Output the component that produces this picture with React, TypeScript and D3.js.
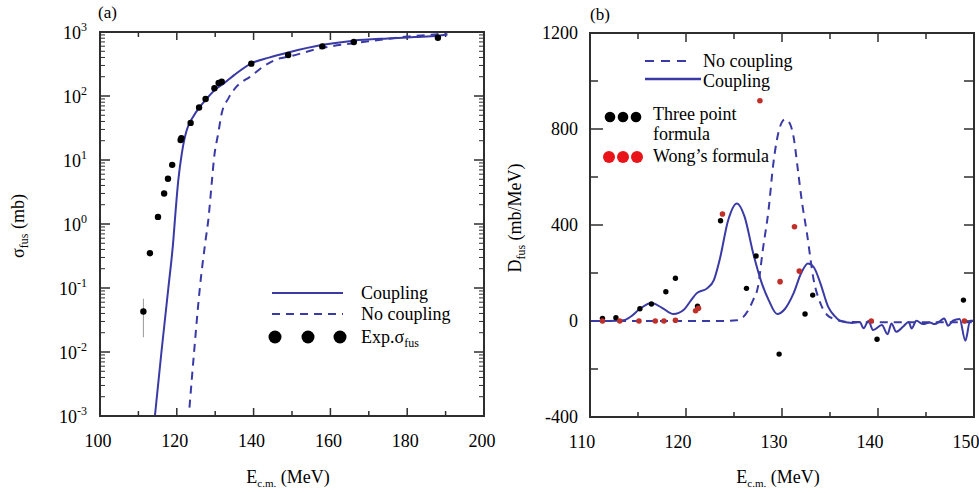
import React from 'react';
import * as d3 from 'd3';

const W = 979;
const H = 493;
const FONT = "'Liberation Serif', 'Times New Roman', Times, serif";
const BLUE = '#3a3aa6';
const AXIS = '#2e2e2e';

// ---------- Panel (a) ----------
const aXTicks = [100, 120, 140, 160, 180, 200];
const aXMinor = [110, 130, 150, 170, 190];
const aYExp = [-3, -2, -1, 0, 1, 2, 3];

const expE = [111.3, 113.0, 115.1, 116.7, 117.7, 118.8, 121.0, 121.2, 123.6, 125.8, 127.5, 129.8, 130.9, 131.7, 139.4, 149.0, 157.9, 166.1, 188.0];
const expSigma = [0.043, 0.35, 1.29, 3.0, 5.1, 8.4, 20.5, 22, 38, 66, 90, 132, 160, 167, 320, 437, 597, 698, 813];
const errE = [111.3];
const errLo = [0.017];
const errHi = [0.068];

const cplAE = [114.3, 116.0, 117.8, 119.1, 119.5, 120.4, 121.3, 122.0, 122.6, 124.3, 126.0, 127.8, 130.4, 132.1, 135.0, 139.4, 144.0, 149.0, 158.0, 166.0, 175.0, 182.0, 188.0, 190.5];
const cplASigma = [0.001, 0.01, 0.1, 0.56, 1.15, 4.9, 12.6, 21.4, 29.5, 47.9, 67.6, 91.2, 132, 155, 214, 324, 398, 479, 631, 733, 794, 832, 871, 912];

const noCplAE = [123.3, 124.5, 126.0, 127.5, 128.2, 129.1, 129.7, 130.8, 131.7, 133.4, 135.6, 139.1, 142.5, 146.9, 148.6, 157.3, 169.4, 180.0, 189.4, 190.5];
const noCplASigma = [0.00135, 0.01, 0.1, 0.56, 1.15, 4.4, 10.7, 26.3, 53.7, 91, 141, 200, 288, 389, 407, 556, 708, 851, 955, 1000];

// ---------- Panel (b) ----------
const bXTicks = [110, 120, 130, 140, 150];
const bXMinor = [115, 125, 135, 145];
const bYTicks = [-400, 0, 400, 800, 1200];
const bYMinor = [-200, 200, 600, 1000];

const cplBE = [110, 112, 113.5, 114.3, 115.2, 116.4, 117.5, 118.7, 119.8, 120.5, 121.1, 122.2, 122.9, 123.5, 124.4, 125.3, 126.1, 127.0, 127.9, 128.6, 129.5, 130.3, 131.2, 132.0, 132.7, 133.3, 134.0, 134.8, 135.5, 136.0, 137.3, 138.1, 138.5, 139.0, 139.5, 140.4, 141.0, 141.4, 141.9, 142.6, 143.2, 143.5, 144.0, 144.7, 145.4, 145.9, 146.5, 146.9, 147.3, 147.8, 148.5, 149.1, 149.6, 150];
const cplBD = [0, 0, 3, 20, 51, 75, 55, 29, 48, 85, 115, 136, 170, 254, 421, 490, 435, 282, 157, 88, 29, 50, 115, 200, 240, 225, 157, 60, 20, 2, -8, -4, -30, 0, -38, -17, -55, -10, -45, -24, -4, -31, 1, -13, -6, -13, 1, 10, -20, 1, 8, -82, 1, 1];

const noCplBE = [110, 124, 125.3, 126.0, 127.0, 127.5, 128.0, 128.6, 129.1, 129.8, 130.3, 130.8, 131.2, 131.7, 132.05, 132.6, 133.3, 134.0, 134.7, 135.5, 136.5, 140, 150];
const noCplBD = [0, 0, 3, 18, 88, 143, 296, 463, 657, 810, 840, 824, 768, 615, 504, 365, 171, 74, 25, 8, -3, -5, -5];

const threeE = [111.3, 112.7, 115.2, 116.4, 117.9, 118.9, 121.2, 123.6, 126.3, 127.3, 129.7, 132.4, 133.2, 139.9, 148.9];
const threeD = [11, 14, 51, 71, 122, 178, 62, 418, 136, 271, -138, 29, 108, -76, 87];

const wongE = [111.3, 113.1, 115.1, 116.8, 117.7, 118.9, 121.0, 121.3, 123.8, 127.7, 129.8, 131.3, 131.8, 139.3, 149.0];
const wongD = [0, 0, 0, 0, 0, 3, 43, 53, 446, 918, 164, 393, 208, 0, 0];

// ---------- Scales ----------
const xa = d3.scaleLinear().domain([100, 200]).range([100, 484]);
const ya = d3.scaleLog().domain([1e-3, 1e3]).range([416, 32]);
const xb = d3.scaleLinear().domain([110, 150]).range([590, 974]);
const yb = d3.scaleLinear().domain([-400, 1200]).range([417, 33]);

const lineA = d3.line<[number, number]>()
  .x((d) => xa(d[0]))
  .y((d) => ya(d[1]))
  .curve(d3.curveMonotoneX);
const lineB = d3.line<[number, number]>()
  .x((d) => xb(d[0]))
  .y((d) => yb(d[1]))
  .curve(d3.curveMonotoneX);

const zip = (a: number[], b: number[]) => a.map((v, i) => [v, b[i]] as [number, number]);

const txt: React.CSSProperties = { fontFamily: FONT };

export default function App() {
  const [ax0, ax1] = xa.range();
  const [ay1, ay0] = ya.range();
  const [bx0, bx1] = xb.range();
  const [by1, by0] = yb.range();

  const aMinorY: number[] = [];
  for (let e = -3; e < 3; e++) {
    for (let k = 2; k <= 9; k++) aMinorY.push(k * Math.pow(10, e));
  }

  return (
    <svg width={W} height={H} style={{ position: 'absolute', left: 0, top: 0, background: '#fff', fontFamily: FONT }}>
      <defs>
        <clipPath id="clipA"><rect x={ax0} y={ay0} width={ax1 - ax0} height={ay1 - ay0} /></clipPath>
        <clipPath id="clipB"><rect x={bx0} y={by0} width={bx1 - bx0} height={by1 - by0} /></clipPath>
      </defs>
      <rect x={0} y={0} width={W} height={H} fill="#fff" />

      {/* ================= Panel (a) ================= */}
      <text style={txt} x={98} y={18} fontSize={17}>(a)</text>
      {aXTicks.map((t) => (
        <g key={'axt' + t}>
          <line x1={xa(t)} x2={xa(t)} y1={ay1} y2={ay1 - 8} stroke={AXIS} strokeWidth={1.5} />
          <line x1={xa(t)} x2={xa(t)} y1={ay0} y2={ay0 + 8} stroke={AXIS} strokeWidth={1.5} />
          <text style={txt} x={xa(t) - 2} y={447} fontSize={18} textAnchor="middle">{t}</text>
        </g>
      ))}
      {aXMinor.map((t) => (
        <g key={'axm' + t}>
          <line x1={xa(t)} x2={xa(t)} y1={ay1} y2={ay1 - 5} stroke={AXIS} strokeWidth={1.5} />
          <line x1={xa(t)} x2={xa(t)} y1={ay0} y2={ay0 + 5} stroke={AXIS} strokeWidth={1.5} />
        </g>
      ))}
      {aYExp.map((e) => {
        const y = ya(Math.pow(10, e));
        return (
          <g key={'aye' + e}>
            <line x1={ax0} x2={ax0 + 10} y1={y} y2={y} stroke={AXIS} strokeWidth={1.5} />
            <line x1={ax1} x2={ax1 - 10} y1={y} y2={y} stroke={AXIS} strokeWidth={1.5} />
            <text style={txt} x={87} y={y + 7} fontSize={18} textAnchor="end">
              <tspan>10</tspan>
              <tspan dy={-8} fontSize={12}>{String(e)}</tspan>
            </text>
          </g>
        );
      })}
      {aMinorY.map((v, i) => (
        <g key={'aym' + i}>
          <line x1={ax0} x2={ax0 + 5} y1={ya(v)} y2={ya(v)} stroke={AXIS} strokeWidth={1} />
          <line x1={ax1} x2={ax1 - 5} y1={ya(v)} y2={ya(v)} stroke={AXIS} strokeWidth={1} />
        </g>
      ))}

      <g clipPath="url(#clipA)">
        <path d={lineA(zip(cplAE, cplASigma)) || ''} fill="none" stroke={BLUE} strokeWidth={2} />
        <path d={lineA(zip(noCplAE, noCplASigma)) || ''} fill="none" stroke={BLUE} strokeWidth={2} strokeDasharray="8,6" />
        {errE.map((e, i) => (
          <line key={'err' + i} x1={xa(e)} x2={xa(e)} y1={ya(errLo[i])} y2={ya(errHi[i])} stroke="#999" strokeWidth={1} />
        ))}
        {expE.map((e, i) => (
          <circle key={'exp' + i} cx={xa(e)} cy={ya(expSigma[i])} r={3.2} fill="#000" />
        ))}
      </g>
      <rect x={ax0} y={ay0} width={ax1 - ax0} height={ay1 - ay0} fill="none" stroke={AXIS} strokeWidth={2} />

      {/* legend (a) */}
      <line x1={272} x2={343} y1={293} y2={293} stroke={BLUE} strokeWidth={2} />
      <text style={txt} x={361} y={299} fontSize={18}>Coupling</text>
      <line x1={272} x2={343} y1={314} y2={314} stroke={BLUE} strokeWidth={2} strokeDasharray="8,6" />
      <text style={txt} x={361} y={320} fontSize={18}>No coupling</text>
      {[275, 308, 340].map((x) => (
        <circle key={'lga' + x} cx={x} cy={337} r={6.5} fill="#000" />
      ))}
      <text style={txt} x={361} y={343} fontSize={18}>
        <tspan>Exp.σ</tspan>
        <tspan dy={4} fontSize={12}>fus</tspan>
      </text>

      {/* axis titles (a) */}
      <text style={txt} x={288} y={483} fontSize={18} textAnchor="middle">
        <tspan>E</tspan>
        <tspan dy={4} fontSize={11}>c.m.</tspan>
        <tspan dy={-4}> (MeV)</tspan>
      </text>
      <text style={txt} transform="translate(24,226) rotate(-90)" fontSize={18} textAnchor="middle">
        <tspan>σ</tspan>
        <tspan dy={4} fontSize={12}>fus</tspan>
        <tspan dy={-4}> (mb)</tspan>
      </text>

      {/* ================= Panel (b) ================= */}
      <text style={txt} x={590} y={20} fontSize={17}>(b)</text>
      {bXTicks.map((t) => (
        <g key={'bxt' + t}>
          <line x1={xb(t)} x2={xb(t)} y1={by1} y2={by1 - 9} stroke={AXIS} strokeWidth={1.5} />
          <line x1={xb(t)} x2={xb(t)} y1={by0} y2={by0 + 9} stroke={AXIS} strokeWidth={1.5} />
          <text style={txt} x={xb(t) - 8} y={448} fontSize={18} textAnchor="middle">{t}</text>
        </g>
      ))}
      {bXMinor.map((t) => (
        <g key={'bxm' + t}>
          <line x1={xb(t)} x2={xb(t)} y1={by1} y2={by1 - 5} stroke={AXIS} strokeWidth={1.5} />
          <line x1={xb(t)} x2={xb(t)} y1={by0} y2={by0 + 6} stroke={AXIS} strokeWidth={1.5} />
        </g>
      ))}
      {bYTicks.map((t) => (
        <g key={'byt' + t}>
          <line x1={bx0} x2={bx0 + 13} y1={yb(t)} y2={yb(t)} stroke={AXIS} strokeWidth={1.5} />
          <line x1={bx1} x2={bx1 - 10} y1={yb(t)} y2={yb(t)} stroke={AXIS} strokeWidth={1.5} />
          <text style={txt} x={578} y={yb(t) + 6} fontSize={18} textAnchor="end">{t}</text>
        </g>
      ))}
      {bYMinor.map((t) => (
        <g key={'bym' + t}>
          <line x1={bx0} x2={bx0 + 8} y1={yb(t)} y2={yb(t)} stroke={AXIS} strokeWidth={1.5} />
          <line x1={bx1} x2={bx1 - 10} y1={yb(t)} y2={yb(t)} stroke={AXIS} strokeWidth={1.5} />
        </g>
      ))}

      <g clipPath="url(#clipB)">
        <path d={lineB(zip(noCplBE, noCplBD)) || ''} fill="none" stroke={BLUE} strokeWidth={2} strokeDasharray="8,6" />
        <path d={lineB(zip(cplBE, cplBD)) || ''} fill="none" stroke={BLUE} strokeWidth={2} />
        {threeE.map((e, i) => (
          <circle key={'tp' + i} cx={xb(e)} cy={yb(threeD[i])} r={2.7} fill="#000" />
        ))}
        {wongE.map((e, i) => (
          <circle key={'wg' + i} cx={xb(e)} cy={yb(wongD[i])} r={2.8} fill="#c0302a" />
        ))}
      </g>
      <rect x={bx0} y={by0} width={bx1 - bx0} height={by1 - by0} fill="none" stroke={AXIS} strokeWidth={2} />

      {/* legend (b) */}
      <line x1={645} x2={693} y1={61} y2={61} stroke={BLUE} strokeWidth={2} strokeDasharray="9,7" />
      <text style={txt} x={703} y={67} fontSize={18}>No coupling</text>
      <line x1={645} x2={701} y1={79} y2={79} stroke={BLUE} strokeWidth={2.5} />
      <text style={txt} x={703} y={87} fontSize={18}>Coupling</text>
      {[610, 623, 636].map((x) => (
        <circle key={'lgb1' + x} cx={x} cy={117} r={5.3} fill="#000" />
      ))}
      <text style={txt} x={653} y={120} fontSize={18}>Three point</text>
      <text style={txt} x={653} y={140} fontSize={18}>formula</text>
      {[609, 623, 637].map((x) => (
        <circle key={'lgb2' + x} cx={x} cy={157} r={6} fill="#e8141a" />
      ))}
      <text style={txt} x={653} y={162} fontSize={18}>Wong’s formula</text>

      {/* axis titles (b) */}
      <text style={txt} x={778} y={483} fontSize={18} textAnchor="middle">
        <tspan>E</tspan>
        <tspan dy={4} fontSize={11}>c.m.</tspan>
        <tspan dy={-4}> (MeV)</tspan>
      </text>
      <text style={txt} transform="translate(521,218) rotate(-90)" fontSize={18} textAnchor="middle">
        <tspan>D</tspan>
        <tspan dy={4} fontSize={12}>fus</tspan>
        <tspan dy={-4}> (mb/MeV)</tspan>
      </text>
    </svg>
  );
}
